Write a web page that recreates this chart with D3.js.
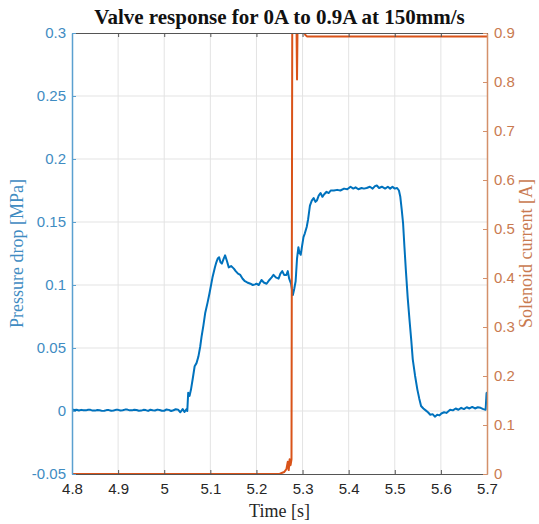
<!DOCTYPE html>
<html>
<head>
<meta charset="utf-8">
<script src="https://cdn.jsdelivr.net/npm/d3@7"></script>
<style>
  body { margin: 0; background: #fff; }
  svg { display: block; }
  .tick text { font-family: "Liberation Sans", Arial, sans-serif; font-size: 15px; }
</style>
</head>
<body>
<div id="chart"></div>
<script>
// tick values
var timeTicks = [4.8, 4.9, 5.0, 5.1, 5.2, 5.3, 5.4, 5.5, 5.6, 5.7];
var pressureTicks = [-0.05, 0, 0.05, 0.1, 0.15, 0.2, 0.25, 0.3];
var currentTicks = [0, 0.1, 0.2, 0.3, 0.4, 0.5, 0.6, 0.7, 0.8, 0.9];

// pressure drop [MPa] vs time [s]
var pressureTime = [4.80, 4.805, 4.81, 4.815, 4.82, 4.825, 4.83, 4.835, 4.84, 4.845, 4.85, 4.855, 4.86, 4.865, 4.87, 4.875,
  4.88, 4.885, 4.89, 4.895, 4.90, 4.905, 4.91, 4.915, 4.92, 4.925, 4.93, 4.935, 4.94, 4.945, 4.95, 4.955, 4.96, 4.965,
  4.97, 4.975, 4.98, 4.985, 4.99, 4.995, 5.00, 5.005, 5.01, 5.015, 5.02, 5.025, 5.03, 5.035, 5.04, 5.044, 5.048, 5.05,
  5.052, 5.055, 5.058, 5.062, 5.066, 5.07, 5.074, 5.078, 5.081, 5.085, 5.089, 5.094, 5.098, 5.105, 5.11, 5.113, 5.116,
  5.119, 5.122, 5.125, 5.129, 5.132, 5.136, 5.14, 5.145, 5.151, 5.155, 5.16, 5.165, 5.17, 5.175, 5.18, 5.187, 5.192,
  5.197, 5.2, 5.205, 5.211, 5.216, 5.222, 5.228, 5.233, 5.237, 5.242, 5.248, 5.252, 5.256, 5.26, 5.265, 5.268, 5.271,
  5.275, 5.279, 5.282, 5.285, 5.288, 5.291, 5.293, 5.296, 5.299, 5.302, 5.305, 5.309, 5.312, 5.316, 5.32, 5.324, 5.328,
  5.331, 5.335, 5.339, 5.343, 5.347, 5.352, 5.357, 5.361, 5.368, 5.375, 5.382, 5.39, 5.397, 5.404, 5.41, 5.415, 5.421,
  5.428, 5.433, 5.439, 5.446, 5.452, 5.457, 5.461, 5.466, 5.472, 5.479, 5.485, 5.49, 5.495, 5.5, 5.505, 5.509, 5.512,
  5.515, 5.518, 5.521, 5.524, 5.528, 5.532, 5.536, 5.539, 5.544, 5.549, 5.553, 5.557, 5.562, 5.567, 5.572, 5.577, 5.582,
  5.587, 5.592, 5.597, 5.601, 5.607, 5.612, 5.62, 5.626, 5.632, 5.638, 5.644, 5.65, 5.656, 5.662, 5.668, 5.674, 5.68,
  5.686, 5.692, 5.697, 5.699, 5.70];
var pressureVals = [0.0012, 0.0008, 0.0010, 0.0004, 0.0009, 0.0006, 0.0005, 0.0010, 0.0009, 0.0003, 0.0003, 0.0008, 0.0006, 0.0001, 0.0002, 0.0007,
  0.0007, 0.0002, 0.0004, 0.0009, 0.0009, 0.0004, 0.0006, 0.0011, 0.0011, 0.0005, 0.0005, 0.0010, 0.0008, 0.0002, 0.0003, 0.0009, 0.0007, 0.0001,
  0.0010, 0.0006, 0.0004, 0.0011, 0.0008, 0.0002, 0.0002, 0.0012, 0.0009, 0.0000, 0.0006, 0.0014, 0.0011, -0.0010, 0.0015, -0.0008, 0.0014, 0.0000,
  0.0145, 0.012, 0.017, 0.026, 0.0355, 0.038, 0.043, 0.051, 0.059, 0.068, 0.078, 0.086, 0.093, 0.1066, 0.114, 0.118, 0.121,
  0.122, 0.118, 0.117, 0.121, 0.1235, 0.119, 0.114, 0.115, 0.113, 0.111, 0.109, 0.108, 0.105, 0.103, 0.102, 0.101, 0.100,
  0.1005, 0.101, 0.100, 0.104, 0.102, 0.101, 0.104, 0.106, 0.108, 0.106, 0.105, 0.109, 0.111, 0.108, 0.108, 0.111, 0.105,
  0.101, 0.092, 0.097, 0.103, 0.121, 0.130, 0.126, 0.124, 0.131, 0.138, 0.141, 0.146, 0.152, 0.163, 0.167, 0.169, 0.166,
  0.167, 0.171, 0.173, 0.170, 0.172, 0.174, 0.173, 0.175, 0.175, 0.1755, 0.175, 0.1765, 0.176, 0.178, 0.1765, 0.1775, 0.176,
  0.177, 0.1765, 0.177, 0.178, 0.1765, 0.1785, 0.179, 0.177, 0.178, 0.1765, 0.178, 0.1765, 0.178, 0.1765, 0.177, 0.175, 0.170,
  0.160, 0.149, 0.130, 0.112, 0.090, 0.072, 0.055, 0.041, 0.028, 0.017, 0.010, 0.004, 0.002, 0.0005, -0.001, -0.003, -0.0025,
  -0.0045, -0.003, -0.0035, -0.002, -0.001, -0.0015, 0.001, 0.0005, 0.002, 0.001, 0.0025, 0.0015, 0.003, 0.002, 0.0032, 0.002, 0.003,
  0.0025, 0.0015, 0.001, 0.014, 0.015];

// solenoid current [A] vs time [s]
var currentTime = [4.80, 5.25, 5.26, 5.265, 5.268, 5.27, 5.272, 5.274, 5.276, 5.278, 5.285, 5.288, 5.291, 5.298, 5.303, 5.306, 5.31, 5.70];
var currentVals = [0, 0, 0.004, 0.01, 0.025, 0.008, 0.03, 0.018, 0.03, 1.1, 1.1, 0.805, 1.1, 1.1, 0.903, 0.896, 0.893, 0.893];

var W = 539, H = 524;
var plot = { left: 72, right: 487, top: 33, bottom: 474 };

var blue = "#0072BD", orange = "#D95319";
var blueText = "#3f8cc2", orangeText = "#c97a50";

var svg = d3.select("#chart").append("svg")
    .attr("width", W)
    .attr("height", H);

var x = d3.scaleLinear().domain([4.8, 5.7]).range([plot.left, plot.right]);
var yL = d3.scaleLinear().domain([-0.05, 0.3]).range([plot.bottom, plot.top]);
var yR = d3.scaleLinear().domain([0, 0.9]).range([plot.bottom, plot.top]);

function fmt(d) { return String(+d.toFixed(2)); }

// grid
svg.append("g").selectAll("line")
    .data(timeTicks.slice(1, -1))
    .enter().append("line")
    .attr("x1", function (d) { return x(d); })
    .attr("x2", function (d) { return x(d); })
    .attr("y1", plot.top).attr("y2", plot.bottom)
    .attr("stroke", "#e3e3e3").attr("stroke-width", 1);
svg.append("g").selectAll("line")
    .data(pressureTicks.slice(1, -1))
    .enter().append("line")
    .attr("y1", function (d) { return yL(d); })
    .attr("y2", function (d) { return yL(d); })
    .attr("x1", plot.left).attr("x2", plot.right)
    .attr("stroke", "#e3e3e3").attr("stroke-width", 1);

// clip
svg.append("clipPath").attr("id", "clip")
    .append("rect")
    .attr("x", plot.left).attr("y", plot.top)
    .attr("width", plot.right - plot.left)
    .attr("height", plot.bottom - plot.top);

var pressure = pressureTime.map(function (t, i) { return [t, pressureVals[i]]; });
var current = currentTime.map(function (t, i) { return [t, currentVals[i]]; });

var lineL = d3.line().x(function (d) { return x(d[0]); }).y(function (d) { return yL(d[1]); });
var lineR = d3.line().x(function (d) { return x(d[0]); }).y(function (d) { return yR(d[1]); });

svg.append("path")
    .datum(pressure)
    .attr("clip-path", "url(#clip)")
    .attr("fill", "none")
    .attr("stroke", blue)
    .attr("stroke-width", 2)
    .attr("stroke-linejoin", "round")
    .attr("d", lineL);

svg.append("path")
    .datum(current)
    .attr("clip-path", "url(#clip)")
    .attr("fill", "none")
    .attr("stroke", orange)
    .attr("stroke-width", 2)
    .attr("stroke-linejoin", "round")
    .attr("d", lineR);

// axes
var xAxis = svg.append("g")
    .attr("transform", "translate(0," + plot.bottom + ")")
    .call(d3.axisBottom(x).tickValues(timeTicks).tickSize(-4).tickSizeOuter(0).tickPadding(9).tickFormat(fmt));
xAxis.select(".domain").attr("stroke", "#555");
xAxis.selectAll(".tick line").attr("stroke", "#555");
xAxis.selectAll(".tick text").attr("fill", "#262626");

var xTop = svg.append("g")
    .attr("transform", "translate(0," + plot.top + ")")
    .call(d3.axisTop(x).tickValues(timeTicks).tickSize(-4).tickSizeOuter(0).tickFormat(""));
xTop.select(".domain").attr("stroke", "#555");
xTop.selectAll(".tick line").attr("stroke", "#555");

var yAxisL = svg.append("g")
    .attr("transform", "translate(" + plot.left + ",0)")
    .call(d3.axisLeft(yL).tickValues(pressureTicks).tickSize(-4).tickSizeOuter(0).tickPadding(6).tickFormat(fmt));
yAxisL.select(".domain").attr("stroke", "#5aa0d0").attr("stroke-width", 1.5);
yAxisL.selectAll(".tick line").attr("stroke", "#5aa0d0");
yAxisL.selectAll(".tick text").attr("fill", blueText);

var yAxisR = svg.append("g")
    .attr("transform", "translate(" + plot.right + ",0)")
    .call(d3.axisRight(yR).tickValues(currentTicks).tickSize(-4).tickSizeOuter(0).tickPadding(7).tickFormat(fmt));
yAxisR.select(".domain").attr("stroke", "#d4906a").attr("stroke-width", 1.5);
yAxisR.selectAll(".tick line").attr("stroke", "#d4906a");
yAxisR.selectAll(".tick text").attr("fill", orangeText);

// title and labels
var midX = (plot.left + plot.right) / 2;
svg.append("text")
    .attr("x", midX).attr("y", 24)
    .attr("text-anchor", "middle")
    .style("font-family", "'Liberation Serif', 'Times New Roman', serif")
    .style("font-weight", "bold")
    .style("font-size", "21px")
    .attr("fill", "#111")
    .text("Valve response for 0A to 0.9A at 150mm/s");

svg.append("text")
    .attr("x", midX).attr("y", 517)
    .attr("text-anchor", "middle")
    .style("font-family", "'Liberation Serif', 'Times New Roman', serif")
    .style("font-size", "18px")
    .attr("fill", "#262626")
    .text("Time [s]");

svg.append("text")
    .attr("transform", "translate(23," + ((plot.top + plot.bottom) / 2) + ") rotate(-90)")
    .attr("text-anchor", "middle")
    .style("font-family", "'Liberation Serif', 'Times New Roman', serif")
    .style("font-size", "18px")
    .attr("fill", blueText)
    .text("Pressure drop [MPa]");

svg.append("text")
    .attr("transform", "translate(532," + ((plot.top + plot.bottom) / 2) + ") rotate(-90)")
    .attr("text-anchor", "middle")
    .style("font-family", "'Liberation Serif', 'Times New Roman', serif")
    .style("font-size", "18px")
    .attr("fill", orangeText)
    .text("Solenoid current [A]");
</script>
</body>
</html>
